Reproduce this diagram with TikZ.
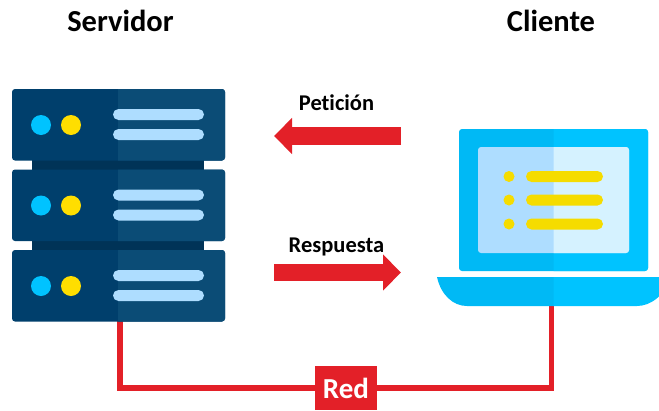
\documentclass[tikz,border=0pt]{standalone}
\usepackage{fontspec}
\setmainfont[Ligatures=NoCommon]{Carlito}
\usetikzlibrary{arrows.meta}
\definecolor{rackL}{HTML}{003F6C}
\definecolor{rackR}{HTML}{0B4C76}
\definecolor{rackJ}{HTML}{003357}
\definecolor{ledB}{HTML}{00C3FF}
\definecolor{ledY}{HTML}{FFDE00}
\definecolor{barB}{HTML}{AEDDFF}
\definecolor{lapL}{HTML}{00B9F5}
\definecolor{lapR}{HTML}{00C3FF}
\definecolor{scrR}{HTML}{D5F2FF}
\definecolor{itemY}{HTML}{F5DC00}
\definecolor{redC}{HTML}{E32028}
\tikzset{
  x=1pt,y=-1pt,
  title/.style={font=\bfseries\fontsize{30.5}{34}\selectfont,text=black,inner sep=0pt},
  msg/.style={font=\bfseries\fontsize{22.5}{26}\selectfont,text=black,inner sep=0pt},
  rackbox/.style={fill=rackL,rounded corners=3pt,minimum width=213pt,minimum height=71.5pt,inner sep=0pt},
  led/.style={circle,minimum size=20pt,inner sep=0pt},
  pill/.style={fill=barB,rounded corners=5.5pt,minimum width=91pt,minimum height=11pt,inner sep=0pt},
  ypill/.style={fill=itemY,rounded corners=5.5pt,minimum width=77pt,minimum height=11pt,inner sep=0pt},
  ydot/.style={circle,fill=itemY,minimum size=11pt,inner sep=0pt},
  bigarrow/.style={draw=redC,line width=17.5pt,-{Triangle[width=35pt,length=18pt]}},
  wire/.style={draw=redC,line width=5.5pt},
  redbox/.style={fill=redC,text=white,font=\bfseries\fontsize{29}{32}\selectfont,minimum width=62pt,minimum height=44pt,inner sep=0pt}
}
\begin{document}
\begin{tikzpicture}
\useasboundingbox (0,0) rectangle (659,410);
\clip (0,0) rectangle (659,410);
% titles
\node[title] (tserv) at (120.5,21) {Servidor};
\node[title] (tcli) at (551,21) {Cliente};
% wire
\coordinate (srvPort) at (120,321);
\coordinate (lapPort) at (551.5,306);
\node[redbox] (red) at (346,388) {Red};
\draw[wire] (srvPort) |- (red.west);
\draw[wire] (lapPort) |- (red.east);
% rack joints
\fill[rackJ] (32,160) rectangle (204,170);
\fill[rackJ] (32,241) rectangle (204,250);
% rack units
\foreach \i/\yy in {1/89,2/169.5,3/250}{
  \begin{scope}[shift={(0,\yy)}]
    \node[rackbox] (srv\i) at (118.5,35.75) {};
    \begin{scope}
      \clip (118,-1) rectangle (230,75);
      \fill[rackR,rounded corners=3pt] (100,0) rectangle (225,71.5);
    \end{scope}
    \node[led,fill=ledB] (ba\i) at (41,36) {};
    \node[led,fill=ledY] (ya\i) at (71,36) {};
    \node[pill] (pa\i) at (158.5,25.5) {};
    \node[pill] (pb\i) at (158.5,45.5) {};
  \end{scope}
}
% laptop
\node[fill=lapL,rounded corners=3pt,minimum width=189pt,minimum height=142pt,inner sep=0pt] (lap) at (553.5,200) {};
\begin{scope}
  \clip (553.5,120) rectangle (660,280);
  \fill[lapR,rounded corners=3pt] (500,129) rectangle (648,271);
\end{scope}
\node[fill=barB,rounded corners=3pt,minimum width=151pt,minimum height=106pt,inner sep=0pt] (scr) at (553.5,200) {};
\begin{scope}
  \clip (553.5,140) rectangle (640,260);
  \fill[scrR,rounded corners=3pt] (500,147) rectangle (629,253);
\end{scope}
\foreach \j/\yy in {1/176.5,2/200,3/224}{
  \node[ydot] (d\j) at (509,\yy) {};
  \node[ypill] (l\j) at (564.5,\yy) {};
}
% laptop base
\fill[lapL] (437,277) .. controls (441,295) and (453,306) .. (467,306) -- (554,306) -- (554,277) -- cycle;
\fill[lapR] (553.5,277) -- (553.5,306) -- (637,306) .. controls (650,306) and (665,296) .. (670,277) -- cycle;
% arrows
\coordinate (pS) at (401,136);
\coordinate (pE) at (274,136);
\coordinate (rS) at (274,272.5);
\coordinate (rE) at (401,272.5);
\path[bigarrow] (pS) -- (pE);
\path[bigarrow] (rS) -- (rE);
\node[msg] (tpet) at (336.5,103) {Petición};
\node[msg] (tres) at (336.5,247) {Respuesta};
\end{tikzpicture}
\end{document}
